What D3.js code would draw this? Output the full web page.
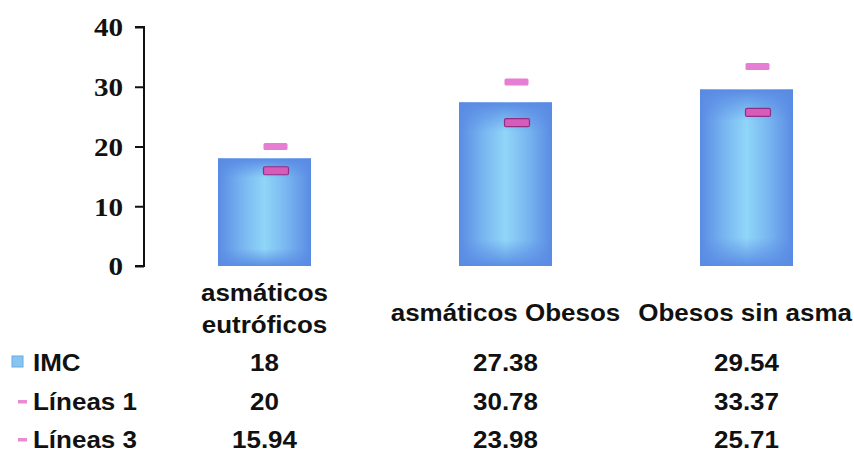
<!DOCTYPE html>
<html>
<head>
<meta charset="utf-8">
<script src="https://cdn.jsdelivr.net/npm/d3@7/dist/d3.min.js"></script>
<style>
  html, body { margin: 0; padding: 0; background: #ffffff; }
  svg { display: block; }
</style>
</head>
<body>
<svg id="chart" width="854" height="460"></svg>
<script>
// Categories and series
const categories = ["asmáticos eutróficos", "asmáticos Obesos", "Obesos sin asma"];
const seriesNames = ["IMC", "Líneas 1", "Líneas 3"];
const imc = [18, 27.38, 29.54];
const lineas1 = [20, 30.78, 33.37];
const lineas3 = [15.94, 23.98, 25.71];
const yTicks = [0, 10, 20, 30, 40];

const W = 854, H = 460;
const svg = d3.select("#chart");

const x = d3.scaleBand()
  .domain(categories)
  .range([144, 867])
  .paddingInner(0.614)
  .paddingOuter(0.307);

const y = d3.scaleLinear().domain([0, 40]).range([266, 27]);

const sansFont = "'Liberation Sans', Arial, sans-serif";
const serifFont = "'Liberation Serif', 'Times New Roman', serif";
const sansSize = 23, sansStretch = 1.13;

// Gradients for the bars: blue rim fading to a light centre
const defs = svg.append("defs");
const hg = defs.append("linearGradient").attr("id", "barH")
  .attr("x1", 0).attr("x2", 1).attr("y1", 0).attr("y2", 0);
[[0, "#5a8be4"], [0.26, "#78b5f0"], [0.5, "#90d6f8"], [0.74, "#78b5f0"], [1, "#5a8be4"]]
  .forEach(([o, c]) => hg.append("stop").attr("offset", o).attr("stop-color", c));
const vg = defs.append("linearGradient").attr("id", "barV")
  .attr("x1", 0).attr("x2", 0).attr("y1", 0).attr("y2", 1);
[[0, "#5a8be4", 1], [0.18, "#5a8be4", 0], [0.84, "#5a8be4", 0], [1, "#5a8be4", 0.95]]
  .forEach(([o, c, a]) => vg.append("stop").attr("offset", o).attr("stop-color", c).attr("stop-opacity", a));

// Bars
const bars = svg.append("g");
categories.forEach((cat, i) => {
  const bx = x(cat), bw = x.bandwidth(), by = y(imc[i]), bh = y(0) - y(imc[i]);
  bars.append("rect").attr("x", bx).attr("y", by).attr("width", bw).attr("height", bh)
    .attr("fill", "url(#barH)");
  bars.append("rect").attr("x", bx).attr("y", by).attr("width", bw).attr("height", bh)
    .attr("fill", "url(#barV)");
});

// Line-series markers (short dashes to the right of each bar centre)
const markers = svg.append("g");
const mOff = 11, mW = 24;
categories.forEach((cat, i) => {
  const cx = x(cat) + x.bandwidth() / 2 + mOff;
  markers.append("rect")
    .attr("x", cx - mW / 2).attr("y", y(lineas1[i]) - 3.5)
    .attr("width", mW).attr("height", 7).attr("rx", 1.5)
    .attr("fill", "#e67ed3");
  markers.append("rect")
    .attr("x", cx - mW / 2).attr("y", y(lineas3[i]) - 4)
    .attr("width", mW + 1).attr("height", 8).attr("rx", 1.5)
    .attr("fill", "#d75bbb").attr("stroke", "#8e2f83").attr("stroke-width", 1.2);
});

// Y axis
const axisG = svg.append("g").attr("transform", "translate(144,0)")
  .call(d3.axisLeft(y).tickValues(yTicks).tickSize(9).tickPadding(12).tickFormat(d3.format("d")));
axisG.select(".domain").attr("stroke", "#111").attr("stroke-width", 2)
  .attr("d", `M-9,${y(40)}H0V${y(0)}H-9`);
axisG.selectAll(".tick line").attr("stroke", "#111").attr("stroke-width", 2);
axisG.selectAll(".tick text")
  .attr("font-family", serifFont).attr("font-weight", "bold").attr("font-size", 26)
  .attr("fill", "#111")
  .attr("x", null).attr("dy", "0.34em")
  .attr("transform", "translate(-21,0) scale(1.12,1)");

// Helper for horizontally stretched text
function stretched(g, txt, tx, ty, anchor) {
  return g.append("text")
    .attr("transform", `translate(${tx},${ty}) scale(${sansStretch},1)`)
    .attr("text-anchor", anchor || "middle")
    .attr("font-family", sansFont).attr("font-weight", "bold").attr("font-size", sansSize)
    .attr("fill", "#111").text(txt);
}

// Category labels, wrapped when wider than a band step
const catG = svg.append("g");
categories.forEach((cat, i) => {
  const cx = x(cat) + x.bandwidth() / 2;
  const probe = stretched(catG, cat, 0, -100);
  const wide = probe.node().getComputedTextLength() * sansStretch;
  probe.remove();
  if (wide > x.step()) {
    const words = cat.split(" ");
    stretched(catG, words[0], cx, 301);
    stretched(catG, words.slice(1).join(" "), cx, 333);
  } else {
    let px = cx;
    if (px + wide / 2 > W - 2) px = W - 2 - wide / 2;
    stretched(catG, cat, px, 321);
  }
});

// Data table: legend keys, row names and values
const rowY = [371, 410, 448];
const series = [imc, lineas1, lineas3];
const tbl = svg.append("g");
seriesNames.forEach((name, r) => {
  if (r === 0) {
    tbl.append("rect").attr("x", 12).attr("y", rowY[r] - 15).attr("width", 11).attr("height", 11)
      .attr("fill", "#86c6ee").attr("stroke", "#6aa9e3").attr("stroke-width", 1);
  } else {
    tbl.append("rect").attr("x", 18).attr("y", rowY[r] - 10).attr("width", 9).attr("height", 3.5)
      .attr("fill", "#e98bd2");
  }
  stretched(tbl, name, 33, rowY[r], "start");
  categories.forEach((cat, i) => {
    const cx = x(cat) + x.bandwidth() / 2;
    stretched(tbl, String(series[r][i]), cx, rowY[r]);
  });
});
</script>
</body>
</html>
